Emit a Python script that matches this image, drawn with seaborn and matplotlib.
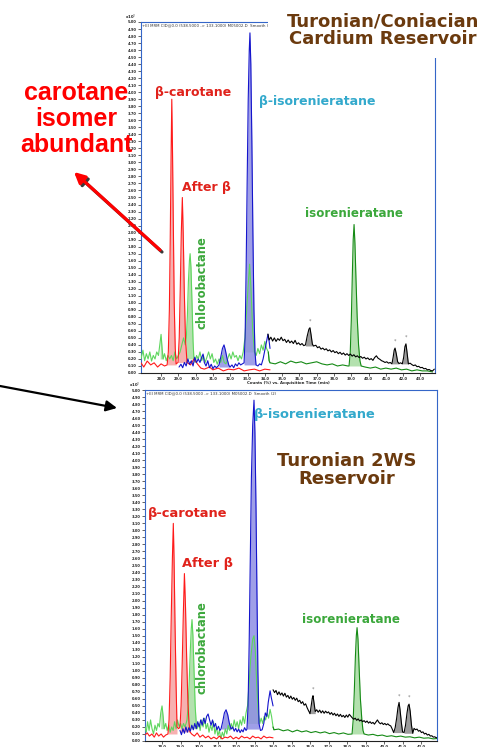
import numpy as np
import pandas as pd
import matplotlib
matplotlib.use("Agg")
import matplotlib.pyplot as plt
from matplotlib.patches import Rectangle, FancyArrowPatch
import seaborn as sns

sns.set_style("ticks")
plt.rcParams["font.family"] = ["DejaVu Sans"]

# ---------------- data: upper chromatogram (Turonian/Coniacian Cardium) ----------------
# (retention time min, relative counts %)
top_red = [(26.84, 2.9), (27.0, 1.7), (27.2, 3.4), (27.4, 2.3), (27.6, 2.9), (27.8, 1.7), (28.0, 2.6),
           (28.2, 2.0), (28.35, 2.3), (28.42, 6), (28.48, 18), (28.53, 38), (28.58, 62), (28.62, 78),
           (28.66, 64), (28.71, 42), (28.76, 20), (28.82, 7), (28.87, 2.6), (28.98, 3), (29.05, 10),
           (29.11, 24), (29.17, 40), (29.23, 50), (29.28, 40), (29.34, 24), (29.41, 10), (29.50, 3),
           (29.7, 2.3), (29.9, 4.0), (30.1, 2.6), (30.3, 1.4), (30.5, 1.1), (30.8, 1.7), (31.0, 0.9),
           (31.3, 1.4), (31.6, 0.6), (31.9, 1.1), (32.2, 0.9), (32.5, 1.4), (32.8, 0.6), (33.1, 0.9),
           (33.4, 1.1), (33.7, 0.6), (34.0, 1.1), (34.3, 0.9)]

top_green = [(26.84, 4), (26.95, 6.5), (27.05, 3.5), (27.15, 5.5), (27.25, 4), (27.35, 6), (27.45, 3.4),
             (27.55, 5), (27.65, 4), (27.75, 6), (27.85, 5), (27.95, 9), (28.0, 11), (28.06, 7),
             (28.12, 4), (28.2, 5.5), (28.3, 3.5), (28.4, 5), (28.5, 4), (28.6, 5), (28.7, 3.5),
             (28.8, 6), (28.9, 4), (29.0, 5), (29.1, 6), (29.2, 8), (29.3, 10), (29.4, 8), (29.46, 10),
             (29.52, 16), (29.58, 26), (29.64, 32), (29.68, 34), (29.73, 30), (29.79, 20), (29.85, 9),
             (29.9, 4), (29.97, 3), (30.05, 5), (30.15, 4), (30.25, 6), (30.35, 3.5), (30.45, 5),
             (30.55, 3), (30.65, 4.5), (30.75, 6), (30.85, 4), (30.95, 5.5), (31.05, 3), (31.15, 4),
             (31.25, 2.5), (31.35, 4), (31.45, 3), (31.55, 5), (31.65, 3), (31.75, 2.6), (31.85, 4),
             (31.95, 5.5), (32.05, 4), (32.15, 6), (32.25, 4.5), (32.35, 5), (32.45, 3.5), (32.55, 5),
             (32.65, 4), (32.75, 6), (32.85, 10), (32.95, 18), (33.05, 26), (33.12, 31), (33.2, 24),
             (33.3, 12), (33.4, 6), (33.5, 5), (33.6, 7), (33.7, 5.5), (33.8, 8), (33.9, 6.5), (34.0, 9),
             (34.1, 7), (34.2, 6), (34.25, 3.5), (34.3, 2.9), (34.6, 2.6), (34.9, 3.2), (35.2, 2.6),
             (35.5, 3.4), (35.8, 2.9), (36.1, 3.2), (36.4, 2.6), (36.7, 2.9), (37.0, 3.2), (37.3, 2.6),
             (37.6, 2.3), (37.9, 2.6), (38.2, 2.0), (38.5, 2.3), (38.8, 2.0), (38.87, 2.0), (38.94, 6),
             (39.0, 15), (39.06, 28), (39.11, 38), (39.16, 42.3), (39.21, 37), (39.27, 27), (39.34, 16),
             (39.42, 8), (39.5, 3.5), (39.57, 2.0), (39.8, 1.7), (40.1, 1.4), (40.4, 1.7), (40.7, 1.1),
             (41.0, 1.4), (41.3, 1.1), (41.6, 1.4), (41.9, 0.9), (42.2, 1.1), (42.5, 0.6), (42.8, 0.9),
             (43.1, 0.6), (43.4, 0.6), (43.7, 0.3)]

top_blue = [(29.04, 1.7), (29.15, 2.5), (29.25, 1.5), (29.35, 3), (29.45, 2), (29.55, 4), (29.65, 2.5),
            (29.75, 3.5), (29.85, 2), (29.95, 4.5), (30.05, 3), (30.15, 4), (30.25, 3), (30.35, 4.5),
            (30.43, 5.4), (30.5, 3), (30.6, 2), (30.7, 3.5), (30.8, 1.5), (30.9, 2.5), (31.0, 1.2),
            (31.1, 2), (31.2, 1.5), (31.3, 2), (31.35, 2.3), (31.45, 4.5), (31.55, 7), (31.64, 8),
            (31.72, 6.5), (31.82, 4), (31.92, 2.2), (31.99, 1.7), (32.1, 2.3), (32.2, 1.5), (32.3, 2.6),
            (32.4, 2), (32.5, 2.9), (32.6, 2.3), (32.7, 2.6), (32.8, 2.9), (32.86, 10), (32.92, 30),
            (32.98, 55), (33.04, 78), (33.1, 92), (33.14, 96.9), (33.19, 88), (33.25, 66), (33.31, 40),
            (33.37, 18), (33.43, 6), (33.49, 2.3), (33.6, 2), (33.7, 2.6), (33.8, 2.3), (33.9, 4),
            (34.0, 6.5), (34.1, 9), (34.18, 11), (34.25, 9), (34.3, 7)]

top_black = [(34.18, 11.1), (34.25, 9.4), (34.35, 10.2), (34.45, 9.1), (34.55, 10.0), (34.65, 9.0),
             (34.75, 9.8), (34.85, 9.3), (34.95, 10.2), (35.05, 9.2), (35.15, 9.6), (35.25, 8.7),
             (35.35, 9.4), (35.45, 8.6), (35.55, 9.1), (35.65, 8.4), (35.75, 9.3), (35.85, 8.2),
             (35.95, 8.6), (36.05, 8.0), (36.15, 8.4), (36.25, 7.8), (36.35, 8.0), (36.45, 10.5),
             (36.55, 12.5), (36.61, 12.9), (36.67, 11), (36.75, 8.2), (36.82, 7.7), (36.95, 7.9),
             (37.05, 7.2), (37.15, 7.5), (37.25, 6.8), (37.35, 7.1), (37.45, 6.6), (37.55, 6.9),
             (37.65, 6.3), (37.75, 6.6), (37.85, 6.0), (37.95, 6.4), (38.05, 5.8), (38.15, 6.1),
             (38.25, 5.5), (38.35, 5.9), (38.45, 5.3), (38.55, 5.7), (38.65, 5.1), (38.75, 5.5),
             (38.85, 5.0), (38.95, 5.4), (39.05, 4.8), (39.15, 5.2), (39.25, 4.6), (39.35, 4.9),
             (39.45, 4.4), (39.55, 4.7), (39.65, 4.2), (39.75, 4.5), (39.85, 4.0), (39.95, 4.3),
             (40.05, 3.8), (40.15, 4.1), (40.25, 3.6), (40.35, 4.4), (40.45, 4.9), (40.55, 4.2),
             (40.65, 3.9), (40.75, 3.5), (40.85, 3.3), (40.95, 3.0), (41.05, 3.2), (41.15, 2.8),
             (41.25, 3.0), (41.35, 2.6), (41.42, 4.5), (41.48, 6.5), (41.53, 7.1), (41.6, 5.5),
             (41.68, 3.2), (41.76, 2.7), (41.85, 2.9), (41.95, 2.6), (42.03, 4.5), (42.1, 7.5),
             (42.16, 8.3), (42.22, 6), (42.3, 2.6), (42.4, 2.8), (42.5, 2.4), (42.6, 2.1), (42.7, 2.3),
             (42.8, 1.8), (42.9, 1.9), (43.0, 1.5), (43.1, 1.6), (43.2, 1.2), (43.3, 1.3), (43.4, 0.9),
             (43.5, 1.0), (43.6, 0.7), (43.7, 0.6), (43.8, 1.1)]

top_red_peaks = [(28.35, 28.87), (28.98, 29.50)]
top_green_peaks = [(27.95, 28.12), (29.46, 29.9), (32.85, 33.4), (38.87, 39.57)]
top_blue_peaks = [(31.35, 31.99), (32.8, 33.49)]
top_grey_peaks = [(36.35, 36.82), (41.35, 41.76), (41.95, 42.3)]

# ---------------- data: lower chromatogram (Turonian 2WS) ----------------
bot_red = [(27.08, 1.7), (27.2, 2.3), (27.32, 1.4), (27.45, 2.0), (27.58, 1.1), (27.7, 2.3), (27.82, 1.4),
           (27.95, 2.0), (28.08, 1.1), (28.2, 1.7), (28.32, 2.0), (28.38, 6), (28.44, 18), (28.5, 36),
           (28.56, 52), (28.61, 62), (28.65, 52), (28.7, 34), (28.76, 16), (28.81, 4), (28.9, 3.5),
           (28.97, 4), (29.03, 10), (29.09, 22), (29.15, 36), (29.21, 47.7), (29.27, 38), (29.33, 24),
           (29.4, 11), (29.46, 5), (29.51, 2.6), (29.6, 2.0), (29.75, 1.4), (29.9, 2.3), (30.05, 1.1),
           (30.2, 1.7), (30.35, 0.9), (30.5, 1.4), (30.65, 0.6), (30.8, 1.1), (30.95, 0.6), (31.1, 1.4),
           (31.25, 0.6), (31.4, 1.1), (31.55, 0.9), (31.7, 1.4), (31.85, 0.6), (32.0, 1.1), (32.15, 0.6),
           (32.3, 1.4), (32.45, 0.9), (32.6, 1.1), (32.75, 0.6), (32.9, 1.4), (33.05, 0.9), (33.2, 1.1),
           (33.35, 0.6), (33.5, 1.4), (33.65, 0.9), (33.8, 1.1), (34.0, 0.9)]

bot_green = [(27.08, 4), (27.15, 2.5), (27.22, 5.5), (27.3, 3), (27.38, 6), (27.46, 3.5), (27.54, 2.0),
             (27.62, 4.5), (27.7, 3), (27.78, 5), (27.86, 4), (27.93, 8), (28.0, 10), (28.06, 7),
             (28.12, 3.5), (28.2, 5), (28.28, 3), (28.36, 4.5), (28.44, 2.5), (28.52, 4), (28.6, 3),
             (28.68, 5.5), (28.76, 3.5), (28.84, 6), (28.92, 4), (29.0, 5), (29.08, 3.5), (29.16, 5),
             (29.24, 4), (29.3, 5), (29.35, 6), (29.41, 10), (29.47, 17), (29.53, 26), (29.58, 32),
             (29.62, 34.6), (29.67, 30), (29.73, 20), (29.79, 10), (29.85, 5), (29.89, 3.5), (29.98, 5),
             (30.06, 3), (30.14, 6), (30.22, 4), (30.3, 6.5), (30.38, 3.5), (30.46, 5), (30.54, 2.5),
             (30.62, 4.5), (30.7, 3), (30.78, 5.5), (30.86, 2.0), (30.94, 4), (31.02, 1.5), (31.1, 3),
             (31.18, 0.6), (31.26, 2.5), (31.34, 1.2), (31.42, 3.5), (31.5, 2), (31.58, 4.5), (31.66, 3),
             (31.74, 5), (31.82, 3.5), (31.9, 6), (31.98, 4), (32.06, 5.5), (32.14, 3.5), (32.22, 6),
             (32.3, 4.5), (32.38, 7), (32.46, 5), (32.54, 8), (32.62, 10), (32.7, 16), (32.8, 24),
             (32.9, 29), (32.97, 30), (33.04, 26), (33.12, 16), (33.2, 8), (33.28, 5), (33.36, 6.5),
             (33.44, 5), (33.52, 7), (33.6, 6), (33.68, 8), (33.76, 6.5), (33.84, 9), (33.92, 7),
             (34.0, 4), (34.05, 3.2), (34.3, 3.4), (34.55, 2.9), (34.8, 3.2), (35.05, 2.6), (35.3, 3.1),
             (35.55, 2.6), (35.8, 2.9), (36.05, 2.4), (36.3, 2.7), (36.55, 2.3), (36.8, 2.6), (37.05, 2.1),
             (37.3, 2.4), (37.55, 2.0), (37.8, 2.3), (38.05, 1.9), (38.27, 2.0), (38.33, 6), (38.39, 14),
             (38.45, 24), (38.5, 30), (38.54, 32.3), (38.59, 29), (38.65, 21), (38.72, 12), (38.8, 6),
             (38.86, 3), (38.92, 2.0), (39.15, 1.7), (39.4, 1.9), (39.65, 1.5), (39.9, 1.7), (40.15, 1.3),
             (40.4, 1.5), (40.65, 1.2), (40.9, 1.4), (41.15, 1.1), (41.4, 1.2), (41.65, 0.9), (41.9, 1.1),
             (42.15, 0.8), (42.4, 0.9), (42.65, 0.6), (42.86, 0.7)]

bot_blue = [(28.97, 3), (29.05, 1.8), (29.13, 3.5), (29.21, 2.2), (29.29, 4), (29.37, 2.5), (29.45, 3.8),
            (29.53, 2.8), (29.61, 4.5), (29.69, 3.2), (29.77, 5), (29.85, 3.5), (29.93, 5.5), (30.01, 4),
            (30.09, 6), (30.17, 4.5), (30.25, 6.5), (30.33, 5), (30.41, 7), (30.49, 7.7), (30.57, 6),
            (30.65, 4.5), (30.73, 6), (30.81, 4), (30.89, 5), (30.97, 3.2), (31.05, 4.2), (31.13, 3),
            (31.19, 3.5), (31.28, 5.5), (31.37, 8), (31.46, 8.9), (31.55, 7.5), (31.64, 5), (31.73, 3.4),
            (31.82, 4), (31.9, 2.8), (31.98, 3.6), (32.06, 2.6), (32.14, 3.4), (32.22, 2.4), (32.3, 3.2),
            (32.38, 2.6), (32.46, 3.8), (32.54, 3.0), (32.59, 3.4), (32.65, 10), (32.71, 28), (32.77, 52),
            (32.83, 75), (32.9, 90), (32.97, 97.1), (33.02, 88), (33.08, 66), (33.13, 42), (33.18, 20),
            (33.24, 5), (33.32, 3), (33.41, 3.2), (33.5, 5), (33.58, 8), (33.66, 7), (33.74, 11),
            (33.8, 13), (33.84, 14.3), (33.9, 12.5), (34.0, 10)]

bot_black = [(34.0, 14.6), (34.08, 13.8), (34.16, 14.4), (34.24, 13.2), (34.32, 14.0), (34.4, 13.1),
             (34.48, 13.7), (34.56, 12.8), (34.64, 13.6), (34.72, 12.5), (34.8, 13.0), (34.88, 12.1),
             (34.96, 12.8), (35.04, 11.9), (35.12, 12.4), (35.2, 11.6), (35.28, 12.2), (35.36, 11.2),
             (35.44, 11.6), (35.52, 10.7), (35.6, 11.2), (35.68, 10.2), (35.76, 10.6), (35.84, 9.5),
             (35.92, 8.6), (36.0, 7.8), (36.06, 10), (36.12, 12.2), (36.16, 12.9), (36.21, 11),
             (36.28, 8.4), (36.36, 8.9), (36.44, 8.2), (36.52, 8.8), (36.6, 8.0), (36.68, 8.6),
             (36.76, 7.9), (36.84, 8.5), (36.92, 8.0), (37.0, 8.3), (37.08, 7.6), (37.16, 8.1),
             (37.24, 7.4), (37.32, 7.9), (37.4, 7.2), (37.48, 7.7), (37.56, 7.0), (37.64, 7.6),
             (37.72, 6.9), (37.8, 7.3), (37.88, 6.7), (37.96, 7.4), (38.04, 6.8), (38.12, 7.6),
             (38.2, 7.1), (38.28, 6.6), (38.36, 6.2), (38.44, 6.5), (38.52, 5.9), (38.6, 6.3),
             (38.68, 5.7), (38.76, 6.0), (38.84, 5.5), (38.92, 5.8), (39.0, 5.3), (39.08, 5.7),
             (39.16, 5.1), (39.24, 5.5), (39.32, 5.0), (39.4, 5.3), (39.48, 4.8), (39.56, 5.4),
             (39.64, 6.0), (39.72, 5.3), (39.8, 4.9), (39.88, 5.2), (39.96, 4.7), (40.04, 5.0),
             (40.12, 4.6), (40.2, 4.9), (40.28, 4.5), (40.36, 4.3), (40.44, 3.4), (40.52, 2.4),
             (40.6, 3.8), (40.68, 6.5), (40.75, 9.5), (40.81, 11.0), (40.86, 9), (40.94, 5), (41.0, 2.6),
             (41.08, 2.4), (41.16, 4.5), (41.24, 8), (41.3, 10), (41.35, 10.5), (41.41, 8.5),
             (41.48, 4.5), (41.55, 2.2), (41.62, 3.6), (41.7, 3.2), (41.78, 3.4), (41.86, 2.8),
             (41.94, 3.0), (42.02, 2.4), (42.1, 2.6), (42.18, 2.0), (42.26, 2.2), (42.34, 1.7),
             (42.42, 1.9), (42.5, 1.4), (42.58, 1.5), (42.66, 1.1), (42.74, 1.2), (42.82, 0.9),
             (42.86, 1.0)]

bot_red_peaks = [(28.32, 28.81), (28.97, 29.51)]
bot_green_peaks = [(27.93, 28.12), (29.35, 29.89), (32.62, 33.28), (38.27, 38.92)]
bot_blue_peaks = [(31.19, 31.73), (32.59, 33.24)]
bot_grey_peaks = [(35.92, 36.28), (40.52, 41.0), (41.08, 41.55)]

RED = "#FF1A1A"
RED_FILL = "#F6A3A3"
GREEN_LIGHT = "#5ED65E"
GREEN_DARK = "#158A15"
GREEN_FILL = "#A6DCA0"
BLUE = "#1414CC"
BLUE_FILL = "#8E8EE4"
GREY_FILL = "#9C9C9C"
FRAME = "#3566C8"
BROWN = "#6B3A0E"
LBL_RED = "#E0221B"
LBL_GREEN = "#3CA83C"
LBL_CYAN = "#33A9CC"


def split(pairs):
    t, i = zip(*pairs)
    return np.array(t), np.array(i)


def line(ax, t, i, color, lw=0.8, z=3):
    df = pd.DataFrame({"t": t, "i": i})
    sns.lineplot(data=df, x="t", y="i", ax=ax, color=color, lw=lw,
                 sort=False, estimator=None, zorder=z)


def fill_peaks(ax, t, i, windows, color, alpha=1.0):
    for a, b in windows:
        m = (t >= a) & (t <= b)
        ax.fill_between(t[m], i[m], i[m].min(), color=color, lw=0, alpha=alpha, zorder=2)


def panel(ax, red, green, blue, black, peaks, xlim, xticks, header):
    red, green, blue, black = split(red), split(green), split(blue), split(black)
    red_pk, green_pk, blue_pk, grey_pk = peaks
    fill_peaks(ax, *red, red_pk, RED_FILL, 0.85)
    fill_peaks(ax, *green, green_pk, GREEN_FILL, 0.85)
    fill_peaks(ax, *blue, blue_pk, BLUE_FILL, 0.85)
    fill_peaks(ax, *black, grey_pk, GREY_FILL, 1.0)

    gt, gi = green
    start = black[0][0]
    early = gt <= start + 0.15
    late = gt >= start
    line(ax, gt[early], gi[early], GREEN_LIGHT)
    line(ax, gt[late], gi[late], GREEN_DARK)
    line(ax, *red, RED)
    line(ax, *blue, BLUE)
    line(ax, *black, "black")

    # small asterisks above the grey peaks
    bt, bi = black
    for a, b in grey_pk:
        m = (bt >= a) & (bt <= b)
        k = np.argmax(bi[m])
        ax.text(bt[m][k], bi[m][k] + 1.2, "*", color="#777777", fontsize=3.5,
                ha="center", va="bottom")

    ax.set_xlim(*xlim)
    ax.set_ylim(0, 100)
    ax.set_xticks(xticks)
    ax.set_xticklabels([f"{v:.1f}" for v in xticks])
    yt = np.arange(0, 101, 2)
    ax.set_yticks(yt)
    ax.set_yticklabels([f"{v * 0.05:.2f}" for v in yt])
    ax.tick_params(axis="both", length=2, width=0.5, direction="out", labelsize=2.6, pad=1)
    for lbl in ax.get_xticklabels() + ax.get_yticklabels():
        lbl.set_fontweight("bold")
    ax.set_xlabel("")
    ax.set_ylabel("")
    for s in ax.spines.values():
        s.set_color(FRAME)
        s.set_linewidth(0.8)
    ax.spines["bottom"].set_color("#222222")
    ax.text(0.005, 0.995, header, transform=ax.transAxes, fontsize=2.8,
            ha="left", va="top", color="#333333")
    ax.text(-0.015, 1.0, "x10$^2$", transform=ax.transAxes, fontsize=2.8,
            ha="right", va="bottom", fontweight="bold")


fig = plt.figure(figsize=(4.92, 7.47), dpi=100)
W, H = 492, 747
ax_top = fig.add_axes([141 / W, 1 - 373 / H, 294 / W, 351 / H])
ax_bot = fig.add_axes([145 / W, 1 - 741 / H, 292 / W, 351 / H])

panel(ax_top, top_red, top_green, top_blue, top_black,
      (top_red_peaks, top_green_peaks, top_blue_peaks, top_grey_peaks),
      (26.84, 43.84), np.arange(28, 44, 1),
      "+EI MRM CID@0.0 (538.5000 -> 133.1000) M05002.D  Smooth (2)")
ax_top.text(0.5, -0.022, "Counts (%) vs. Acquisition Time (min)", transform=ax_top.transAxes,
            fontsize=2.8, fontweight="bold", ha="center", va="top")

panel(ax_bot, bot_red, bot_green, bot_blue, bot_black,
      (bot_red_peaks, bot_green_peaks, bot_blue_peaks, bot_grey_peaks),
      (27.08, 42.86), np.arange(28, 43, 1),
      "+EI MRM CID@0.0 (538.5000 -> 133.1000) M05002.D  Smooth (2)")

# peak labels, upper panel
lab = dict(fontweight="bold", zorder=6)
ax_top.text(27.65, 80, "β-carotane", color=LBL_RED, fontsize=9, ha="left", va="center", **lab)
ax_top.text(29.21, 52.9, "After β", color=LBL_RED, fontsize=9, ha="left", va="center", **lab)
ax_top.text(30.37, 25.7, "chlorobactane", color=LBL_GREEN, fontsize=8.3, rotation=90,
            ha="center", va="center", **lab)
ax_top.text(33.66, 77.4, "β-isorenieratane", color=LBL_CYAN, fontsize=9, ha="left", va="center", **lab)
ax_top.text(39.13, 45.4, "isorenieratane", color=LBL_GREEN, fontsize=8.6, ha="center", va="center", **lab)

# peak labels, lower panel
ax_bot.text(32.97, 93.1, "β-isorenieratane", color=LBL_CYAN, fontsize=9.4, ha="left", va="center", **lab)
ax_bot.text(27.24, 64.9, "β-carotane", color=LBL_RED, fontsize=9.4, ha="left", va="center", **lab)
ax_bot.text(29.08, 50.6, "After β", color=LBL_RED, fontsize=9.4, ha="left", va="center", **lab)
ax_bot.text(30.16, 26.6, "chlorobactane", color=LBL_GREEN, fontsize=8.3, rotation=90,
            ha="center", va="center", **lab)
ax_bot.text(38.22, 34.6, "isorenieratane", color=LBL_GREEN, fontsize=8.6, ha="center", va="center", **lab)

# white patch behind the upper title
fig.patches.append(Rectangle((268 / W, 1 - 58 / H), (W - 268) / W, 58 / H,
                             transform=fig.transFigure, facecolor="white",
                             edgecolor="none", zorder=1))
fig.text(383 / W, 1 - 30.5 / H, "Turonian/Coniacian\nCardium Reservoir", color=BROWN,
         fontsize=13, fontweight="bold", ha="center", va="center", linespacing=1.0, zorder=4)
fig.text(347 / W, 1 - 470 / H, "Turonian 2WS\nReservoir", color=BROWN,
         fontsize=13, fontweight="bold", ha="center", va="center", linespacing=1.0, zorder=4)

fig.text(76 / W, 1 - 119 / H, "carotane\nisomer\nabundant", color="#FF0000",
         fontsize=18, fontweight="bold", family=["Liberation Sans", "DejaVu Sans"],
         ha="center", va="center", linespacing=1.1, zorder=4)


def fig_arrow(p0, p1, color, lw, scale):
    a = FancyArrowPatch((p0[0] / W, 1 - p0[1] / H), (p1[0] / W, 1 - p1[1] / H),
                        transform=fig.transFigure, arrowstyle="-|>", color=color,
                        lw=lw, mutation_scale=scale, shrinkA=0, shrinkB=0, zorder=5)
    fig.patches.append(a)


# red arrow with a dark drop shadow, and the black pointer to the lower panel
fig_arrow((162, 252), (76, 174), "#3a3a3a", 2.3, 16)
fig_arrow((160, 250), (74, 172), "#FF0000", 2.3, 16)
fig_arrow((0, 386), (117, 408), "black", 1.6, 16)

fig.savefig("out.png", dpi=100)
